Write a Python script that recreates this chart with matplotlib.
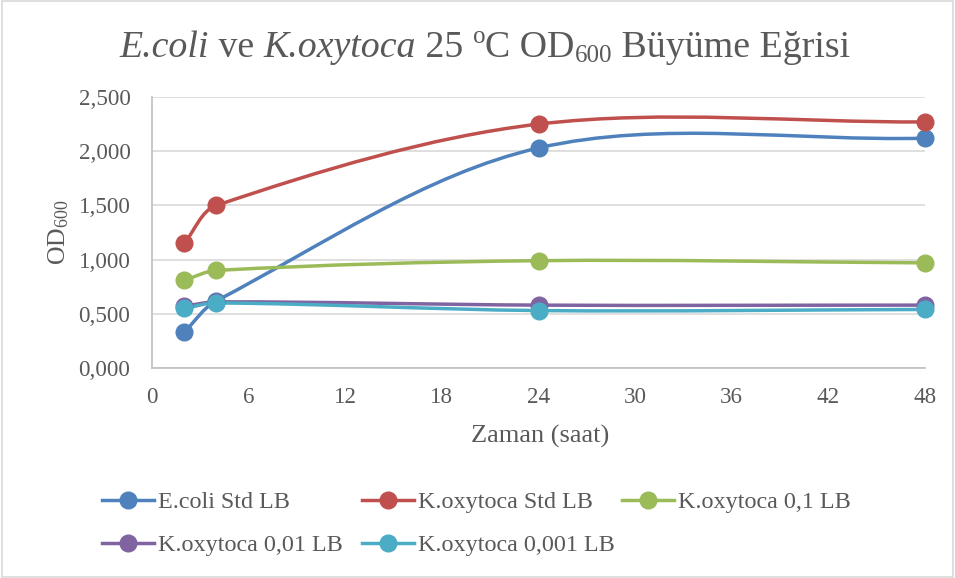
import matplotlib
matplotlib.use("Agg")
import matplotlib.pyplot as plt
from matplotlib.path import Path
from matplotlib.patches import PathPatch, Rectangle
from matplotlib.lines import Line2D
from matplotlib.transforms import IdentityTransform
import numpy as np

plt.rcParams['font.family'] = ['Liberation Serif', 'DejaVu Serif']
plt.rcParams['mathtext.fontset'] = 'custom'
plt.rcParams['mathtext.rm'] = 'Liberation Serif'
plt.rcParams['mathtext.it'] = 'Liberation Serif:italic'

hours = [2, 4, 24, 48]
series_names = ["E.coli Std LB", "K.oxytoca Std LB", "K.oxytoca 0,1 LB",
                "K.oxytoca 0,01 LB", "K.oxytoca 0,001 LB"]
ecoli_std = [0.33, 0.62, 2.03, 2.12]
koxy_std = [1.15, 1.50, 2.25, 2.27]
koxy_01 = [0.81, 0.90, 0.99, 0.97]
koxy_001 = [0.57, 0.61, 0.58, 0.58]
koxy_0001 = [0.55, 0.60, 0.53, 0.54]
colors = ["#4F81BD", "#C0504D", "#9BBB59", "#8064A2", "#4BACC6"]
x_ticks = [0, 6, 12, 18, 24, 30, 36, 42, 48]
y_ticks = [0.0, 0.5, 1.0, 1.5, 2.0, 2.5]

TXT = "#595959"
W, H = 955, 578

fig = plt.figure(figsize=(W / 100, H / 100), dpi=100)
fig.add_artist(Rectangle((0.002, 0.002), 0.996, 0.996, transform=fig.transFigure,
                         fill=False, edgecolor="#D9D9D9", linewidth=1.2))
ax = fig.add_axes([152 / W, 1 - 368 / H, (925 - 152) / W, (368 - 97) / H])
ax.set_xlim(0, 48)
ax.set_ylim(0, 2.5)


def smooth_path(xs, ys):
    """Excel-like smoothed line: cubic Bezier through the points,
    tangents scaled by neighbouring segment lengths (in display space)."""
    disp = ax.transData.transform(np.column_stack([xs, ys]).astype(float))
    n = len(disp)
    verts = [disp[0]]
    codes = [Path.MOVETO]
    for i in range(n - 1):
        p0 = disp[i - 1] if i > 0 else disp[i]
        p1 = disp[i]
        p2 = disp[i + 1]
        p3 = disp[i + 2] if i + 2 < n else disp[i + 1]
        d01 = np.hypot(*(p1 - p0))
        d12 = np.hypot(*(p2 - p1))
        d23 = np.hypot(*(p3 - p2))
        f1 = d12 / (d01 + d12) / 3.0 if (d01 + d12) > 0 else 0
        f2 = d12 / (d12 + d23) / 3.0 if (d12 + d23) > 0 else 0
        c1 = p1 + (p2 - p0) * f1
        c2 = p2 - (p3 - p1) * f2
        verts += [c1, c2, p2]
        codes += [Path.CURVE4] * 3
    data_verts = ax.transData.inverted().transform(np.array(verts))
    return Path(data_verts, codes)


data = [ecoli_std, koxy_std, koxy_01, koxy_001, koxy_0001]
handles = []
LW = 2.5
MS = 12
for name, ys, c in zip(series_names, data, colors):
    patch = PathPatch(smooth_path(hours, ys), facecolor="none", edgecolor=c,
                      linewidth=LW, zorder=3, capstyle="round", joinstyle="round")
    ax.add_patch(patch)
    ax.plot(hours, ys, linestyle="none", marker="o", markersize=MS,
            color=c, zorder=4, clip_on=False)
    handles.append(Line2D([], [], color=c, linewidth=LW, marker="o",
                          markersize=MS, label=name))

ax.set_xticks(x_ticks)
ax.set_yticks(y_ticks)
ax.set_yticklabels([f"{v:.3f}".replace(".", ",") for v in y_ticks])
ax.tick_params(length=0, labelsize=16.6, labelcolor=TXT)
ax.tick_params(axis="y", pad=15.5)
ax.tick_params(axis="x", pad=14)
ax.grid(axis="y", color="#D9D9D9", linewidth=1.2)
ax.set_axisbelow(True)
for s in ["top", "right"]:
    ax.spines[s].set_visible(False)
for s in ["left", "bottom"]:
    ax.spines[s].set_color("#BFBFBF")
    ax.spines[s].set_linewidth(1.2)

ax.set_xlabel("Zaman (saat)", fontsize=19, color=TXT)
ax.xaxis.set_label_coords((540 - 152) / 773, (368 - 425) / 271)
ax.set_ylabel("OD$_{600}$", fontsize=18.5, color=TXT)
ax.yaxis.set_label_coords((59 - 152) / 773, (368 - 232) / 271)
ax.yaxis.label.set_va("center")

# Title built from pieces (italic species names, superscript, subscript)
renderer = fig.canvas.get_renderer()
TS = 27.3
base_y = H - 57
pieces = [("E.coli", TS, "italic", 0), (" ve ", TS, "normal", 0),
          ("K.oxytoca", TS, "italic", 0), (" 25 ", TS, "normal", 0),
          ("o", TS * 0.66, "normal", 14), ("C OD", TS, "normal", 0),
          ("600", TS * 0.66, "normal", -5), (" Büyüme Eğrisi", TS, "normal", 0)]
texts = []
x = 0.0
for s, size, style, dy in pieces:
    t = fig.text(x, base_y + dy, s, fontsize=size, fontstyle=style, color=TXT,
                 ha="left", va="baseline", transform=IdentityTransform())
    w = t.get_window_extent(renderer).width
    texts.append((t, x))
    x += w
total = x
start = 485 - total / 2
for t, x0 in texts:
    t.set_x(start + x0)

# Legend entries at Excel-like fixed positions
leg_pos = [(102, 502), (362, 502), (622, 502), (102, 545), (362, 545)]
for h, name, (lx, ly) in zip(handles, series_names, leg_pos):
    fig.legend([h], [name], loc="center left",
               bbox_to_anchor=(lx / W, 1 - ly / H), frameon=False,
               fontsize=17.4, labelcolor=TXT, handlelength=2.15,
               handletextpad=0.15, borderaxespad=0, borderpad=0)

fig.savefig("out.png", dpi=100)
